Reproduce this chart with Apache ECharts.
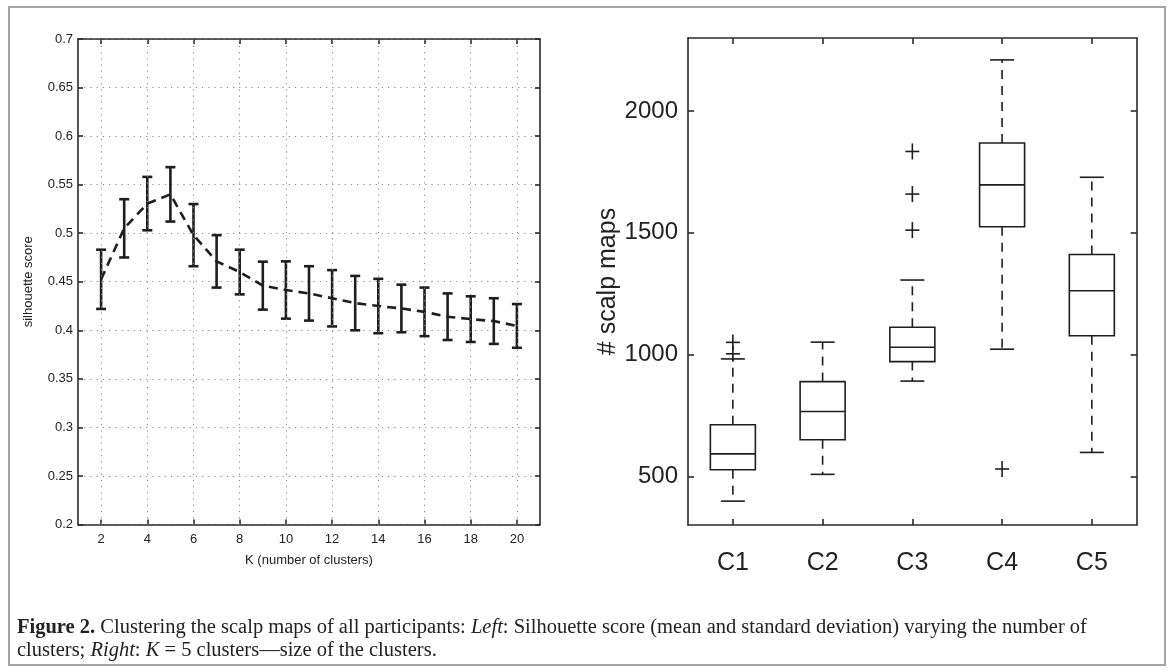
<!DOCTYPE html>
<html>
<head>
<meta charset="utf-8">
<script src="https://cdn.jsdelivr.net/npm/echarts@6.0.0/dist/echarts.min.js"></script>
<style>
html,body{margin:0;padding:0;background:#fff;}
#chart{width:1171px;height:670px;}
</style>
</head>
<body>
<div id="chart"></div>
<script>
// ---------- data ----------
const kValues = [2,3,4,5,6,7,8,9,10,11,12,13,14,15,16,17,18,19,20];
const meanScores = [0.4525,0.505,0.5305,0.540,0.498,0.471,0.460,0.446,0.4415,0.438,0.433,0.428,0.425,0.4225,0.419,0.414,0.4115,0.4095,0.4045];
const stdScores  = [0.0305,0.030,0.0275,0.028,0.032,0.027,0.023,0.0247,0.0295,0.028,0.029,0.028,0.028,0.0245,0.025,0.024,0.0235,0.0235,0.0225];
const leftXTicks = [2,4,6,8,10,12,14,16,18,20];

const clusterNames = ['C1','C2','C3','C4','C5'];
// [lower whisker, Q1, median, Q3, upper whisker]
const boxStats = [
  [398, 527, 592, 712, 982],
  [508, 650, 766, 889, 1051],
  [891, 971, 1030, 1112, 1306],
  [1022, 1525, 1697, 1869, 2210],
  [598, 1077, 1262, 1411, 1728]
];
// [cluster index, value]
const outlierPoints = [[0,1003],[0,1050],[2,1511],[2,1659],[2,1834],[3,530]];
const rightYTicks = [500,1000,1500,2000];

// ---------- helpers ----------
const FONT = "'Liberation Sans Narrow','Liberation Sans',Arial,sans-serif";
const INK = '#1e1e1e';

function renderErrorBar(params, api) {
  const x = api.value(0), lo = api.value(1), hi = api.value(2);
  const a = api.coord([x, lo]), b = api.coord([x, hi]);
  const w = 5;
  const st = {stroke: INK, lineWidth: 2.6};
  return {type:'group', children:[
    {type:'line', shape:{x1:a[0],y1:a[1],x2:b[0],y2:b[1]}, style:st},
    {type:'line', shape:{x1:a[0]-w,y1:a[1],x2:a[0]+w,y2:a[1]}, style:st},
    {type:'line', shape:{x1:b[0]-w,y1:b[1],x2:b[0]+w,y2:b[1]}, style:st}
  ]};
}

function renderBox(params, api) {
  const i = api.value(0);
  const lo = api.coord([i, api.value(1)]);
  const q1 = api.coord([i, api.value(2)]);
  const md = api.coord([i, api.value(3)]);
  const q3 = api.coord([i, api.value(4)]);
  const hi = api.coord([i, api.value(5)]);
  const cx = md[0];
  const hw = 22.5, cw = 12;
  const solid = {stroke: INK, lineWidth: 1.6, fill: null};
  const dashed = {stroke: INK, lineWidth: 1.6, lineDash: [9, 7]};
  return {type:'group', children:[
    {type:'rect', shape:{x:cx-hw, y:q3[1], width:hw*2, height:q1[1]-q3[1]}, style:{stroke:INK, lineWidth:1.6, fill:'none'}},
    {type:'line', shape:{x1:cx-hw,y1:md[1],x2:cx+hw,y2:md[1]}, style:solid},
    {type:'line', shape:{x1:cx,y1:q3[1],x2:cx,y2:hi[1]}, style:dashed},
    {type:'line', shape:{x1:cx,y1:q1[1],x2:cx,y2:lo[1]}, style:dashed},
    {type:'line', shape:{x1:cx-cw,y1:hi[1],x2:cx+cw,y2:hi[1]}, style:solid},
    {type:'line', shape:{x1:cx-cw,y1:lo[1],x2:cx+cw,y2:lo[1]}, style:solid}
  ]};
}

function renderPlus(params, api) {
  const p = api.coord([api.value(0), api.value(1)]);
  const st = {stroke: INK, lineWidth: 1.6};
  return {type:'group', children:[
    {type:'line', shape:{x1:p[0]-7,y1:p[1],x2:p[0]+7,y2:p[1]}, style:st},
    {type:'line', shape:{x1:p[0],y1:p[1]-8,x2:p[0],y2:p[1]+8}, style:st}
  ]};
}

const axisLine = {show:true, onZero:false, lineStyle:{color:'#2a2a2a', width:1.6}};
const tickLine = {color:'#2a2a2a', width:1.6};
const dotted = {color:'#8a8a8a', width:1, type:[1.2,5]};

const chart = echarts.init(document.getElementById('chart'), null, {renderer:'canvas'});
chart.setOption({
  backgroundColor:'#ffffff',
  animation:false,
  grid:[
    {left:78, top:39, width:462, height:485.5},
    {left:688, top:38, width:448.7, height:487}
  ],
  xAxis:[
    {gridIndex:0, type:'value', min:1, max:21, position:'bottom',
     axisLine:axisLine,
     axisTick:{show:true, inside:true, length:5, customValues:leftXTicks, lineStyle:tickLine},
     axisLabel:{customValues:leftXTicks, margin:8, fontSize:13, color:'#222', fontFamily:FONT},
     splitLine:{show:false},
     name:'K (number of clusters)', nameLocation:'middle', nameGap:29,
     nameTextStyle:{fontSize:13, color:'#222', fontFamily:FONT}},
    {gridIndex:0, type:'value', min:1, max:21, position:'top',
     axisLine:axisLine,
     axisTick:{show:true, inside:true, length:5, customValues:leftXTicks, lineStyle:tickLine},
     axisLabel:{show:false}, splitLine:{show:false}},
    {gridIndex:1, type:'category', data:clusterNames, position:'bottom',
     axisLine:axisLine,
     axisTick:{show:true, inside:true, alignWithLabel:true, length:6, lineStyle:tickLine},
     axisLabel:{margin:26, fontSize:25, color:'#222', fontFamily:FONT},
     splitLine:{show:false}},
    {gridIndex:1, type:'category', data:clusterNames, position:'top',
     axisLine:axisLine,
     axisTick:{show:true, inside:true, alignWithLabel:true, length:6, lineStyle:tickLine},
     axisLabel:{show:false}, splitLine:{show:false}}
  ],
  yAxis:[
    {gridIndex:0, type:'value', min:0.2, max:0.7, interval:0.05, position:'left',
     axisLine:axisLine,
     axisTick:{show:true, inside:true, length:5, lineStyle:tickLine},
     axisLabel:{margin:5, fontSize:13, color:'#222', fontFamily:FONT,
       formatter:v=>String(Math.round(v*100)/100)},
     splitLine:{show:true, lineStyle:dotted},
     name:'silhouette score', nameLocation:'middle', nameGap:43,
     nameTextStyle:{fontSize:13, color:'#222', fontFamily:FONT}},
    {gridIndex:0, type:'value', min:0.2, max:0.7, interval:0.05, position:'right',
     axisLine:axisLine,
     axisTick:{show:true, inside:true, length:5, lineStyle:tickLine},
     axisLabel:{show:false}, splitLine:{show:false}},
    {gridIndex:1, type:'value', min:300, max:2300, position:'left',
     axisLine:axisLine,
     axisTick:{show:true, inside:true, length:6, customValues:rightYTicks, lineStyle:tickLine},
     axisLabel:{customValues:rightYTicks, margin:10, fontSize:24, color:'#222', fontFamily:FONT,
       formatter:v=>String(v)},
     splitLine:{show:false},
     name:'# scalp maps', nameLocation:'middle', nameGap:48,
     nameTextStyle:{fontSize:25, color:'#222', fontFamily:"'Liberation Sans',Arial,sans-serif"}},
    {gridIndex:1, type:'value', min:300, max:2300, position:'right',
     axisLine:axisLine,
     axisTick:{show:true, inside:true, length:6, customValues:rightYTicks, lineStyle:tickLine},
     axisLabel:{show:false}, splitLine:{show:false}}
  ],
  series:[
    {type:'line', xAxisIndex:0, yAxisIndex:0, silent:true,
     data:[],
     markLine:{silent:true, symbol:'none', label:{show:false},
       lineStyle:dotted,
       data:leftXTicks.map(k=>({xAxis:k}))}},
    {type:'line', xAxisIndex:0, yAxisIndex:0, symbol:'none', z:3,
     data:kValues.map((k,i)=>[k, meanScores[i]]),
     lineStyle:{color:INK, width:2.6, type:[9,6]}},
    {type:'custom', xAxisIndex:0, yAxisIndex:0, z:4,
     renderItem:renderErrorBar,
     encode:{x:0, y:[1,2]},
     data:kValues.map((k,i)=>[k, meanScores[i]-stdScores[i], meanScores[i]+stdScores[i]])},
    {type:'custom', xAxisIndex:2, yAxisIndex:2, z:4,
     renderItem:renderBox,
     encode:{x:0, y:[1,2,3,4,5]},
     data:boxStats.map((s,i)=>[i].concat(s))},
    {type:'custom', xAxisIndex:2, yAxisIndex:2, z:4,
     renderItem:renderPlus,
     encode:{x:0, y:1},
     data:outlierPoints}
  ],
  graphic:[
    {type:'rect', silent:true, z:-1,
     shape:{x:9, y:7, width:1156, height:658},
     style:{fill:'none', stroke:'#a3a3a3', lineWidth:2}},
    {type:'text', left:17, top:617, silent:true,
     style:{text:'{b|Figure 2.} Clustering the scalp maps of all participants: {i|Left}: Silhouette score (mean and standard deviation) varying the number of',
       font:"20.5px 'Liberation Serif',serif", fill:'#222',
       rich:{b:{fontWeight:'bold', fontSize:20.5, fontFamily:"'Liberation Serif',serif", fill:'#222'},
             i:{fontStyle:'italic', fontSize:20.5, fontFamily:"'Liberation Serif',serif", fill:'#222'}}}},
    {type:'text', left:17, top:640, silent:true,
     style:{text:'clusters; {i|Right}: {i|K} = 5 clusters—size of the clusters.',
       font:"20.5px 'Liberation Serif',serif", fill:'#222',
       rich:{i:{fontStyle:'italic', fontSize:20.5, fontFamily:"'Liberation Serif',serif", fill:'#222'}}}}
  ]
});
</script>
</body>
</html>
